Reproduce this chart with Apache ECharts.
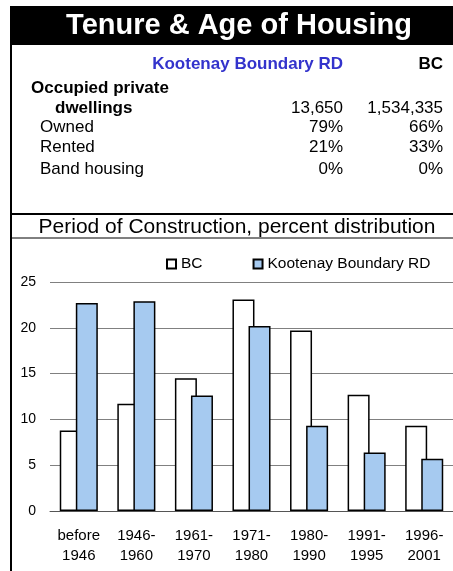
<!DOCTYPE html>
<html>
<head>
<meta charset="utf-8">
<script src="https://cdn.jsdelivr.net/npm/echarts@6/dist/echarts.min.js"></script>
<style>
  html, body { margin: 0; padding: 0; background: #fff; }
  #chart { width: 453px; height: 571px; }
</style>
</head>
<body>
<div id="chart"></div>
<script>
// chart data
const categories = ['before\n1946', '1946-\n1960', '1961-\n1970', '1971-\n1980', '1980-\n1990', '1991-\n1995', '1996-\n2001'];
const bcValues = [8.8, 11.7, 14.5, 23.1, 19.7, 12.7, 9.3];
const kbValues = [22.7, 22.9, 12.6, 20.2, 9.3, 6.4, 5.7];

// tenure table
const tableLabels = ['Owned', 'Rented', 'Band housing'];
const kbTable = ['79%', '21%', '0%'];
const bcTable = ['66%', '33%', '0%'];
const dwellings = ['13,650', '1,534,335'];

const FONT = '"Liberation Sans", Arial, sans-serif';
const chart = echarts.init(document.getElementById('chart'));

function txt(x, y, text, opts) {
  return {
    type: 'text', x: x, y: y,
    style: Object.assign({
      text: text, fontFamily: FONT, fontSize: 17, fill: '#000',
      verticalAlign: 'middle', align: 'left'
    }, opts || {})
  };
}

const graphics = [
  { type: 'rect', shape: { x: 10, y: 6, width: 443, height: 39 }, style: { fill: '#000' } },
  { type: 'line', shape: { x1: 11, y1: 6, x2: 11, y2: 571 }, style: { stroke: '#000', lineWidth: 2 } },
  { type: 'line', shape: { x1: 10, y1: 214, x2: 453, y2: 214 }, style: { stroke: '#000', lineWidth: 2 } },
  { type: 'line', shape: { x1: 10, y1: 238, x2: 453, y2: 238 }, style: { stroke: '#000', lineWidth: 1 } },
  txt(239, 26, 'Tenure & Age of Housing', { fill: '#fff', fontSize: 29, fontWeight: 'bold', align: 'center' }),
  txt(343, 64, 'Kootenay Boundary RD', { fill: '#3333cc', fontWeight: 'bold', align: 'right' }),
  txt(443, 64, 'BC', { fontWeight: 'bold', align: 'right' }),
  txt(31, 88, 'Occupied private', { fontWeight: 'bold' }),
  txt(55, 108, 'dwellings', { fontWeight: 'bold' }),
  txt(343, 108, dwellings[0], { align: 'right' }),
  txt(443, 108, dwellings[1], { align: 'right' }),
  txt(237, 227, 'Period of Construction, percent distribution', { fontSize: 21, align: 'center' })
];
tableLabels.forEach(function (lab, i) {
  const y = [127, 147, 169][i];
  graphics.push(txt(40, y, lab));
  graphics.push(txt(343, y, kbTable[i], { align: 'right' }));
  graphics.push(txt(443, y, bcTable[i], { align: 'right' }));
});

const option = {
  animation: false,
  textStyle: { fontFamily: FONT },
  graphic: graphics,
  legend: {
    left: 161,
    top: 251,
    icon: 'rect',
    itemWidth: 9,
    itemHeight: 9,
    itemGap: 50,
    textStyle: { fontSize: 15.5, color: '#000', fontFamily: FONT },
    data: ['BC', 'Kootenay Boundary RD']
  },
  grid: { left: 50, top: 282, width: 405, height: 229 },
  xAxis: {
    type: 'category',
    data: categories,
    axisLine: { lineStyle: { color: '#555', width: 1 } },
    axisTick: { show: false },
    axisLabel: { fontSize: 15, color: '#000', lineHeight: 20, margin: 15, interval: 0, fontFamily: FONT }
  },
  yAxis: {
    type: 'value',
    min: 0, max: 25, interval: 5,
    axisLine: { show: false },
    axisTick: { show: false },
    axisLabel: { fontSize: 14, color: '#000', margin: 14, fontFamily: FONT },
    splitLine: { lineStyle: { color: '#808080', width: 1 } }
  },
  series: [
    {
      name: 'BC', type: 'bar', data: bcValues,
      barWidth: 22, barGap: '-27%',
      itemStyle: { color: '#fff', borderColor: '#000', borderWidth: 1.5 }
    },
    {
      name: 'Kootenay Boundary RD', type: 'bar', data: kbValues,
      barWidth: 22,
      itemStyle: { color: '#a6caf0', borderColor: '#000', borderWidth: 1.5 }
    }
  ]
};
chart.setOption(option);
</script>
</body>
</html>
